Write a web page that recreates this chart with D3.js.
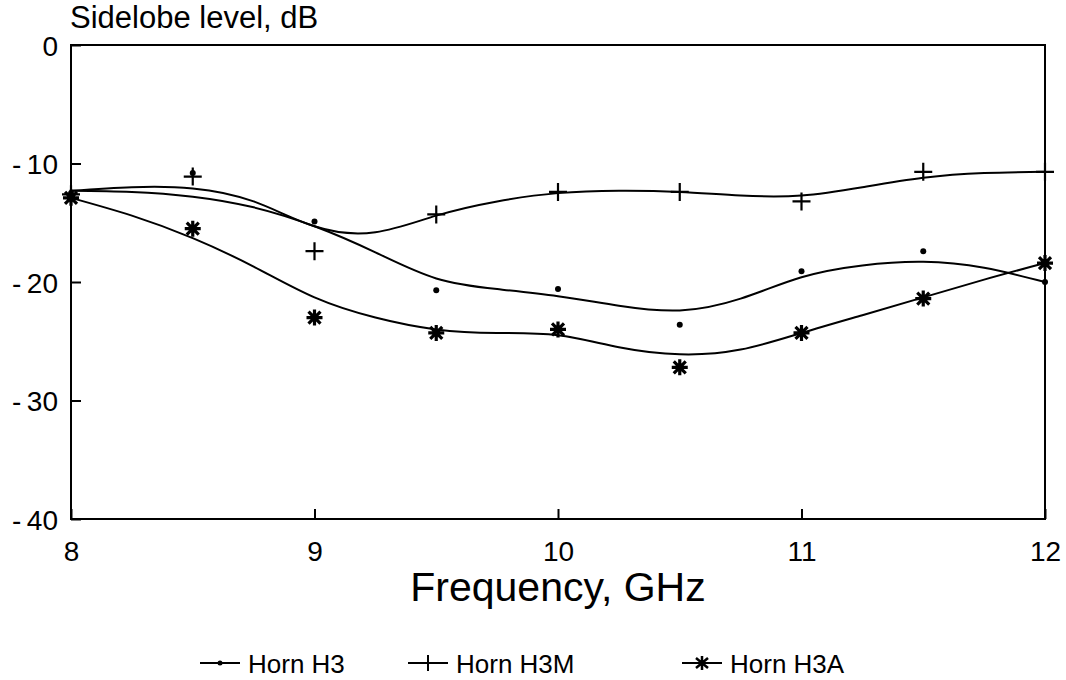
<!DOCTYPE html>
<html>
<head>
<meta charset="utf-8">
<script src="https://cdn.jsdelivr.net/npm/d3@7"></script>
<style>
  body { margin: 0; background: #fff; }
  text { font-family: "Liberation Sans", Arial, sans-serif; fill: #000; }
</style>
</head>
<body>
<div id="chart"></div>
<script>
// measured points (GHz, dB)
const freqs = [8, 8.5, 9, 9.5, 10, 10.5, 11, 11.5, 12];
const h3Points = [-12.5, -10.8, -14.9, -20.7, -20.6, -23.6, -19.1, -17.4, -20.0];
const h3mPoints = [-12.6, -11.1, -17.4, -14.3, -12.4, -12.4, -13.2, -10.7, -10.7];
const h3aPoints = [-12.9, -15.5, -23.0, -24.3, -24.0, -27.2, -24.3, -21.4, -18.4];

// fitted curves
const curveFreqs = [8, 8.25, 8.5, 8.75, 9, 9.25, 9.5, 9.75, 10, 10.25, 10.5, 10.75, 11, 11.25, 11.5, 11.75, 12];
const h3Curve = [-12.3, -12.4, -12.8, -13.7, -15.3, -17.5, -19.7, -20.6, -21.2, -22.0, -22.4, -21.4, -19.6, -18.6, -18.3, -18.8, -20.0];
const h3mCurve = [-12.3, -12.0, -12.1, -13.2, -15.3, -15.8, -14.4, -13.2, -12.5, -12.3, -12.4, -12.7, -12.7, -12.0, -11.2, -10.8, -10.7];
const h3aCurve = [-12.9, -14.4, -16.3, -18.7, -21.3, -23.0, -24.0, -24.3, -24.5, -25.5, -26.1, -25.7, -24.3, -22.8, -21.3, -19.8, -18.4];

const xTicks = [8, 9, 10, 11, 12];
const yTicks = [0, -10, -20, -30, -40];
const seriesNames = ['Horn H3', 'Horn H3M', 'Horn H3A'];

const width = 1066;
const height = 680;
const margin = { left: 71, right: 21, top: 45, bottom: 161 };
const w = width - margin.left - margin.right;
const h = height - margin.top - margin.bottom;

const svg = d3.select('#chart')
  .append('svg')
  .attr('width', width)
  .attr('height', height);

const g = svg.append('g')
  .attr('transform', `translate(${margin.left},${margin.top})`);

const x = d3.scaleLinear().domain([8, 12]).range([0, w]);
const y = d3.scaleLinear().domain([-40, 0]).range([h, 0]);

// frame
g.append('rect')
  .attr('width', w)
  .attr('height', h)
  .attr('fill', 'none')
  .attr('stroke', '#000')
  .attr('stroke-width', 2);

// axes with inward ticks
const yAxis = g.append('g')
  .call(d3.axisLeft(y).tickValues(yTicks).tickSize(-10).tickSizeOuter(0).tickPadding(13)
    .tickFormat((d) => (d === 0 ? '0' : '-\u2009' + Math.abs(d))));
const xAxis = g.append('g')
  .attr('transform', `translate(0,${h})`)
  .call(d3.axisBottom(x).tickValues(xTicks).tickSize(-10).tickSizeOuter(0).tickPadding(22)
    .tickFormat(d3.format('d')));
[xAxis, yAxis].forEach((a) => {
  a.select('.domain').remove();
  a.selectAll('line').attr('stroke', '#000').attr('stroke-width', 2);
  a.selectAll('text').attr('font-size', 28).attr('font-family', null).attr('fill', '#000');
});
yAxis.selectAll('text').attr('dy', '0.36em');

// titles
svg.append('text')
  .attr('x', margin.left - 1)
  .attr('y', 28)
  .attr('font-size', 31)
  .text('Sidelobe level, dB');

svg.append('text')
  .attr('x', margin.left + x(10))
  .attr('y', 601)
  .attr('text-anchor', 'middle')
  .attr('font-size', 41)
  .text('Frequency, GHz');

// curves
const line = d3.line()
  .x((d) => x(d[0]))
  .y((d) => y(d[1]))
  .curve(d3.curveNatural);

const curves = [h3Curve, h3mCurve, h3aCurve];
g.append('g')
  .attr('fill', 'none')
  .attr('stroke', '#000')
  .attr('stroke-width', 2)
  .selectAll('path')
  .data(curves)
  .join('path')
  .attr('d', (c) => line(curveFreqs.map((f, i) => [f, c[i]])));

// markers
const dot = (sel) => sel.append('circle').attr('r', 3).attr('fill', '#000');
const plus = (sel) => sel.append('path')
  .attr('d', 'M-9,0H9M0,-9V9')
  .attr('stroke', '#000').attr('stroke-width', 2.2);
const star = (sel) => sel.append('path')
  .attr('d', 'M-8,0H8M0,-8V8M-6,-6L6,6M-6,6L6,-6')
  .attr('stroke', '#000').attr('stroke-width', 3.2);
const markers = [dot, plus, star];

[h3Points, h3mPoints, h3aPoints].forEach((vals, si) => {
  g.append('g')
    .selectAll('g')
    .data(freqs.map((f, i) => [f, vals[i]]))
    .join('g')
    .attr('transform', (d) => `translate(${x(d[0])},${y(d[1])})`)
    .each(function () { markers[si](d3.select(this)); });
});

// legend
const legendX = [200, 408, 682];
const legend = svg.append('g').attr('transform', 'translate(0,663)');
seriesNames.forEach((name, i) => {
  const item = legend.append('g').attr('transform', `translate(${legendX[i]},0)`);
  item.append('line')
    .attr('x1', 0).attr('x2', 40)
    .attr('stroke', '#000').attr('stroke-width', 2);
  const m = item.append('g').attr('transform', 'translate(20,0)');
  if (i === 0) m.append('circle').attr('r', 2.5).attr('fill', '#000');
  if (i === 1) m.append('path').attr('d', 'M0,-8V8').attr('stroke', '#000').attr('stroke-width', 2);
  if (i === 2) m.append('path').attr('d', 'M0,-7V7M-6,-5L6,5M-6,5L6,-5').attr('stroke', '#000').attr('stroke-width', 2.5);
  item.append('text')
    .attr('x', 48)
    .attr('y', 10)
    .attr('font-size', 26)
    .text(name);
});
</script>
</body>
</html>
